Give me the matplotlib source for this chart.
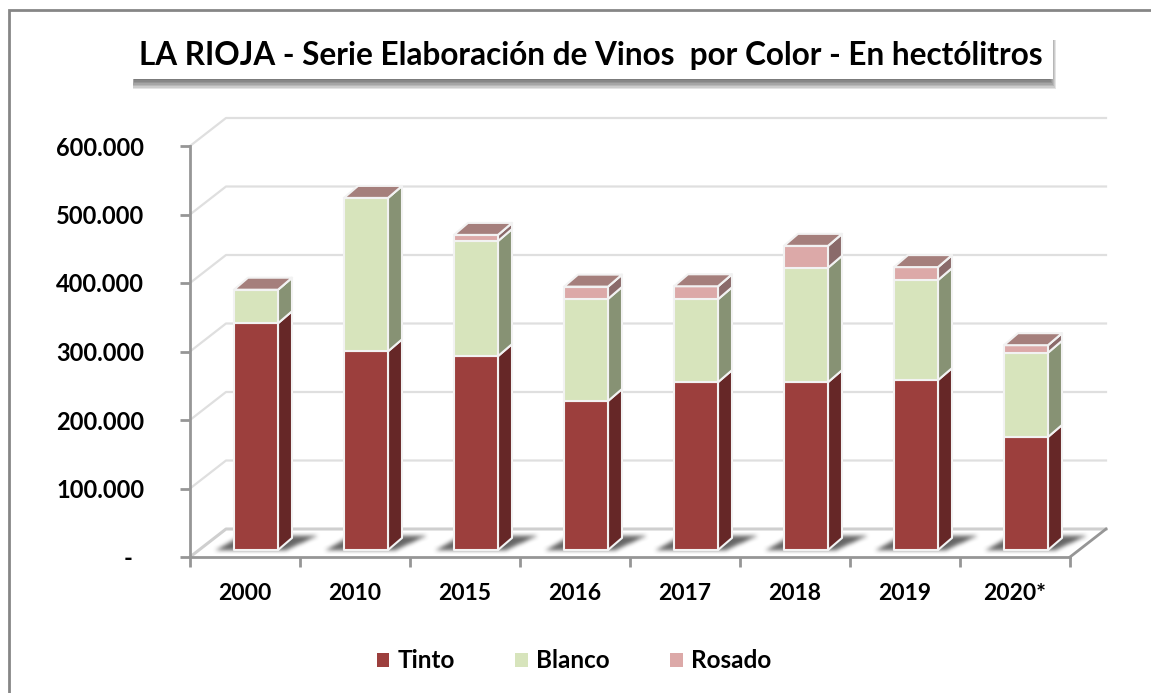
import matplotlib
matplotlib.use('Agg')
import matplotlib.pyplot as plt
import numpy as np
from matplotlib.patches import Polygon, Rectangle, Patch

plt.rcParams['font.family'] = ['Lato', 'DejaVu Sans']
plt.rcParams['font.weight'] = 'bold'

anios = ['2000', '2010', '2015', '2016', '2017', '2018', '2019', '2020*']
tinto = [331000, 290000, 283000, 217500, 245000, 245000, 248000, 165000]
blanco = [49000, 224000, 168000, 149000, 121000, 167000, 146000, 123000]
rosado = [0, 0, 9000, 18000, 19000, 32000, 19000, 11000]
ticks_y = [0, 100000, 200000, 300000, 400000, 500000, 600000]
etiquetas_y = ['-  ', '100.000', '200.000', '300.000', '400.000', '500.000', '600.000']
titulo = 'LA RIOJA - Serie Elaboración de Vinos  por Color - En hectólitros'

W, H = 1151, 693
fig = plt.figure(figsize=(W / 100, H / 100), dpi=100)


def caja_px(x0, y0, x1, y1, **kw):
    # rectangulo en pixeles de la imagen, y hacia abajo
    r = Rectangle((x0 / W, 1 - y1 / H), (x1 - x0) / W, (y1 - y0) / H,
                  transform=fig.transFigure, **kw)
    fig.add_artist(r)


#marco exterior
caja_px(9, 10, 1170, 720, fc='white', ec='#868686', lw=2, zorder=-1)

ax = fig.add_axes([190 / W, 1 - 557 / H, 880 / W, 411 / H])
ax.set_xlim(0, 8)
ax.set_ylim(0, 600000)
ax.patch.set_alpha(0)

# profundidad de la caja 3D, en unidades de los ejes
prof_x = 36 / 110
prof_y = 28 * 600000 / 411
# profundidad de cada barra y su base
barra_px = 14 / 110
barra_py = 12 * 600000 / 411
base = 7 * 600000 / 411
ancho = 0.4
GRIS = '#dfdfdf'
EJE = '#969696'

#paredes
for v in ticks_y:
    ax.plot([0, prof_x, 8 + prof_x], [v, v + prof_y, v + prof_y],
            color=GRIS if v > 0 else '#cfcfcf', lw=1.6 if v > 0 else 2.2, clip_on=False, zorder=1)
ax.plot([8, 8 + prof_x], [0, prof_y], color=EJE, lw=2, clip_on=False, zorder=1)

#sombra difusa en el piso: paralelogramo desenfocado, en pixeles desde la base de la barra
xx, yy = np.meshgrid(np.arange(-35, 106), np.arange(-12, 29))
izq = -18 + yy * 22 / 13
der = 52 + yy * 28 / 13
mascara = ((xx >= izq) & (xx <= der) & (yy >= 0) & (yy <= 14)).astype(float)
nucleo = np.ones(5) / 5
for _ in range(2):
    mascara = np.apply_along_axis(lambda m: np.convolve(m, nucleo, 'same'), 0, mascara)
    mascara = np.apply_along_axis(lambda m: np.convolve(m, nucleo, 'same'), 1, mascara)
sombra = np.zeros(mascara.shape + (4,))
sombra[..., :3] = 0.25
sombra[..., 3] = mascara * 0.8
for i in range(len(anios)):
    ax.imshow(sombra, origin='lower', aspect='auto', interpolation='bilinear', zorder=2, clip_on=False,
              extent=[i + 0.4 - 35 / 110, i + 0.4 + 105 / 110,
                      base - 12 * 600000 / 411, base + 28 * 600000 / 411])
ax.set_xlim(0, 8)
ax.set_ylim(0, 600000)


def barra(i, v0, v1, frente, lado, arriba=None):
    x0 = i + 0.4
    x1 = x0 + ancho
    y0 = base + v0
    y1 = base + v1
    dx, dy = barra_px, barra_py
    pk = dict(ec='#f2f2f2', lw=1.5, clip_on=False, zorder=3, joinstyle='round')
    ax.add_patch(Polygon([(x1, y0), (x1 + dx, y0 + dy), (x1 + dx, y1 + dy), (x1, y1)], fc=lado, **pk))
    ax.add_patch(Rectangle((x0, y0), ancho, v1 - v0, fc=frente, **pk))
    if arriba:
        ax.add_patch(Polygon([(x0, y1), (x1, y1), (x1 + dx, y1 + dy), (x0 + dx, y1 + dy)], fc=arriba, **pk))


for i in range(len(anios)):
    t = tinto[i]
    b = t + blanco[i]
    r = b + rosado[i]
    barra(i, 0, t, '#9c3f3d', '#662727')
    barra(i, t, b, '#d7e4bc', '#879274')
    if rosado[i] > 0:
        barra(i, b, r, '#dca9a8', '#8a6a6a')
    barra(i, r, r, '#dca9a8', '#8a6a6a', '#a57f7c')

#ejes
for s in ['top', 'right']:
    ax.spines[s].set_visible(False)
for s in ['left', 'bottom']:
    ax.spines[s].set_color(EJE)
    ax.spines[s].set_linewidth(2)
ax.set_yticks(ticks_y)
ax.set_yticklabels(etiquetas_y, fontsize=17, fontweight='bold', color='black')
ax.tick_params(axis='y', length=7, width=2, color=EJE, pad=26)
ax.set_xticks(range(9))
ax.set_xticklabels([])
ax.set_xticks([i + 0.5 for i in range(8)], minor=True)
ax.set_xticklabels(anios, minor=True, fontsize=16.5, fontweight='bold')
ax.tick_params(axis='x', which='major', length=7, width=2, color=EJE)
ax.tick_params(axis='x', which='minor', length=0, pad=19)

#caja del titulo con sombra
for k in range(7):
    caja_px(134 - k * 0.2, 40, 1050 + k, 80 + k * 1.5, fc='#303030', ec='none', alpha=0.13, zorder=5)
caja_px(131, 28, 1053, 79, fc='white', ec='none', zorder=6)
fig.text(591 / W, 1 - 55 / H, titulo, ha='center', va='center', fontsize=22.7,
         fontweight='bold', color='black', zorder=7)

#leyenda
fig.legend(handles=[Patch(fc='#9c3f3d', label='Tinto'), Patch(fc='#d7e4bc', label='Blanco'),
                    Patch(fc='#dca9a8', label='Rosado')],
           loc='center', bbox_to_anchor=(574 / W, 1 - 661 / H), ncol=3, frameon=False,
           prop={'size': 17.5, 'weight': 'bold'}, handlelength=0.5, handleheight=0.5,
           handletextpad=0.35, columnspacing=2.5)

fig.savefig('out.png', dpi=100)
plt.close()
